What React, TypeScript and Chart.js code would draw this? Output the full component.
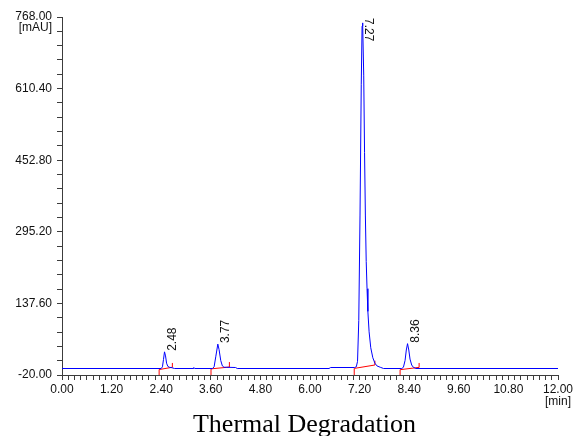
import React, { useEffect, useRef } from 'react';
import { Chart, registerables } from 'chart.js';

Chart.register(...registerables);

// ---- data ----
const TRACE_TIME = [
  0.0, 2.4, 2.43, 2.455, 2.48, 2.505, 2.53, 2.56, 2.6, 2.66, 2.72,
  3.17, 3.19, 3.21,
  3.64, 3.68, 3.72, 3.77, 3.8, 3.84, 3.88, 3.92, 3.98, 4.2, 4.24,
  6.46, 6.5, 7.08,
  7.12, 7.15, 7.18, 7.21, 7.24, 7.26, 7.27, 7.28, 7.3, 7.32, 7.34, 7.36, 7.38, 7.4, 7.43, 7.47, 7.52, 7.57, 7.62, 7.7, 7.78,
  8.22, 8.26, 8.3, 8.33, 8.36, 8.39, 8.42, 8.46, 8.5, 8.56,
  12.0,
];
const TRACE_MAU = [
  -5.7, -5.7, -2, 14, 31, 22, 6, -1, -3, -4, -5.7,
  -5.7, -3.5, -5.7,
  -5.7, -2, 20, 48, 36, 12, 0, -3, -3, -3.5, -5.7,
  -5.7, -3.5, -3.5,
  -2, 10, 100, 330, 620, 748, 755, 748, 640, 470, 330, 230, 170, 120, 75, 40, 18, 6, 0, -3, -5.7,
  -5.7, -3, 12, 35, 49, 35, 15, 2, -3, -5.7,
  -5.7,
];

const PEAK_TIMES = [2.48, 3.77, 7.27, 8.36];
const PEAK_APEX_MAU = [31, 48, 755, 49];
const PEAK_LABELS = ['2.48', '3.77', '7.27', '8.36'];

const INT_START_TIME = [2.35, 3.605, 7.07, 8.18];
const INT_START_MAU = [-8, -6.5, -5.5, -8.3];
const INT_END_TIME = [2.67, 4.05, 7.57, 8.64];
const INT_END_MAU = [-3, -2.5, 2, -3.2];
const INT_END_TICK_MAU = [6.5, 8.5, 11.5, 6.5];

const X_MAJOR_TICKS = [0, 1.2, 2.4, 3.6, 4.8, 6.0, 7.2, 8.4, 9.6, 10.8, 12.0];
const Y_MAJOR_TICKS = [-20, 137.6, 295.2, 452.8, 610.4, 768];
const X_MINOR_DIV = 8;
const Y_MINOR_DIV = 5;

const X_UNIT = '[min]';
const Y_UNIT = '[mAU]';
const TITLE = 'Thermal Degradation';

// ---- helpers ----
function buildTicks(majors: number[], div: number) {
  const out: { value: number }[] = [];
  for (let i = 0; i < majors.length - 1; i++) {
    const a = majors[i];
    const b = majors[i + 1];
    for (let j = 0; j < div; j++) out.push({ value: a + ((b - a) * j) / div });
  }
  out.push({ value: majors[majors.length - 1] });
  return out;
}
function majorLabel(majors: number[], v: number) {
  return majors.some((m) => Math.abs(m - v) < 1e-6) ? Number(v).toFixed(2) : '';
}

const AXIS_COLOR = '#3c3c3c';
const TEXT_COLOR = '#111111';
const SANS = '"Liberation Sans", Arial, sans-serif';

const annotationPlugin = {
  id: 'chromAnnotations',
  afterDatasetsDraw(chart: any) {
    const { ctx, chartArea, scales } = chart;
    const xs = scales.x;
    const ys = scales.y;
    ctx.save();
    ctx.fillStyle = TEXT_COLOR;
    ctx.font = `12px ${SANS}`;
    // peak labels
    PEAK_TIMES.forEach((t, i) => {
      const px = xs.getPixelForValue(t);
      const py = ys.getPixelForValue(PEAK_APEX_MAU[i]);
      ctx.save();
      ctx.textAlign = 'left';
      ctx.textBaseline = 'alphabetic';
      if (py - 30 < chartArea.top) {
        ctx.translate(px + 3, chartArea.top + 1);
        ctx.rotate(Math.PI / 2);
      } else {
        ctx.translate(px + 11, py - 1);
        ctx.rotate(-Math.PI / 2);
      }
      ctx.fillText(PEAK_LABELS[i], 0, 0);
      ctx.restore();
    });
    // unit labels
    ctx.textBaseline = 'middle';
    ctx.textAlign = 'right';
    ctx.fillText(Y_UNIT, chartArea.left - 10, chartArea.top + 11);
    ctx.textAlign = 'center';
    ctx.fillText(X_UNIT, chartArea.right, chartArea.bottom + 27);
    // title
    ctx.font = `26px "Liberation Serif", "Times New Roman", serif`;
    ctx.fillStyle = '#000000';
    ctx.textAlign = 'center';
    ctx.textBaseline = 'alphabetic';
    ctx.fillText(TITLE, 304.5, 432);
    ctx.restore();
  },
};

export default function App() {
  const ref = useRef<HTMLCanvasElement | null>(null);
  useEffect(() => {
    if (!ref.current) return;
    const trace = TRACE_TIME.map((t, i) => ({ x: t, y: TRACE_MAU[i] }));
    const intSets = PEAK_TIMES.map((_, i) => ({
      data: [
        { x: INT_START_TIME[i], y: Y_MAJOR_TICKS[0] },
        { x: INT_START_TIME[i], y: INT_START_MAU[i] },
        { x: INT_END_TIME[i], y: INT_END_MAU[i] },
        { x: INT_END_TIME[i], y: INT_END_TICK_MAU[i] },
      ],
      borderColor: '#ff0000',
      borderWidth: 1,
      pointRadius: 0,
      tension: 0,
      fill: false,
    }));
    const chart = new Chart(ref.current, {
      type: 'line',
      data: {
        datasets: [
          {
            data: trace,
            borderColor: '#0000ff',
            borderWidth: 1,
            pointRadius: 0,
            tension: 0,
            fill: false,
          },
          ...intSets,
        ] as any,
      },
      options: {
        responsive: false,
        maintainAspectRatio: false,
        animation: false,
        devicePixelRatio: 1,
        layout: { padding: { left: 0, top: 17, right: 15, bottom: 0 } },
        plugins: { legend: { display: false }, tooltip: { enabled: false }, title: { display: false } },
        scales: {
          x: {
            type: 'linear',
            min: 0,
            max: 12,
            afterBuildTicks: (s: any) => {
              s.ticks = buildTicks(X_MAJOR_TICKS, X_MINOR_DIV);
            },
            afterFit: (s: any) => {
              s.height = 61;
              s.paddingLeft = 0;
              s.paddingRight = 0;
            },
            grid: { drawOnChartArea: false, drawTicks: true, tickLength: 5, color: AXIS_COLOR },
            border: { display: true, color: AXIS_COLOR },
            ticks: {
              autoSkip: false,
              maxRotation: 0,
              minRotation: 0,
              padding: 2,
              color: TEXT_COLOR,
              font: { family: SANS, size: 12 },
              callback: (v: any) => majorLabel(X_MAJOR_TICKS, Number(v)),
            },
          },
          y: {
            type: 'linear',
            min: -20,
            max: 768,
            afterBuildTicks: (s: any) => {
              s.ticks = buildTicks(Y_MAJOR_TICKS, Y_MINOR_DIV);
            },
            afterFit: (s: any) => {
              s.width = 62;
              s.paddingTop = 0;
              s.paddingBottom = 0;
            },
            grid: { drawOnChartArea: false, drawTicks: true, tickLength: 5, color: AXIS_COLOR },
            border: { display: true, color: AXIS_COLOR },
            ticks: {
              autoSkip: false,
              padding: 5,
              color: TEXT_COLOR,
              font: { family: SANS, size: 12 },
              callback: (v: any) => majorLabel(Y_MAJOR_TICKS, Number(v)),
            },
          },
        },
      } as any,
      plugins: [annotationPlugin],
    });
    return () => chart.destroy();
  }, []);
  return (
    <canvas
      ref={ref}
      width={573}
      height={436}
      style={{ position: 'absolute', left: 0, top: 0, width: 573, height: 436, display: 'block' }}
    />
  );
}
